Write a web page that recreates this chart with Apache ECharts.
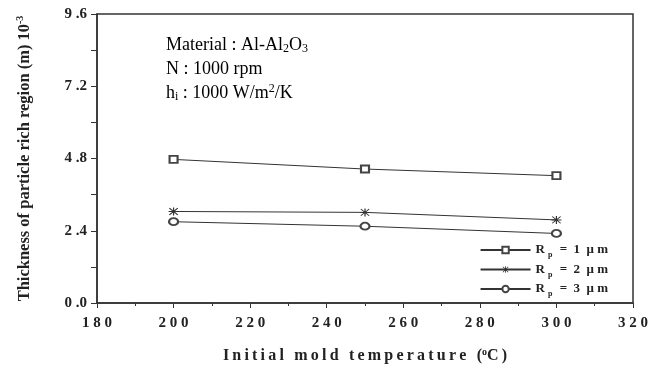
<!DOCTYPE html>
<html><head><meta charset="utf-8">
<script src="https://cdn.jsdelivr.net/npm/echarts@6/dist/echarts.min.js"></script>
<style>html,body{margin:0;padding:0;background:#fff}#c{width:663px;height:365px}</style>
</head><body><div id="c"></div>
<script>
const temps = [200, 250, 300];
const rp1 = [4.77, 4.45, 4.23];
const rp2 = [3.04, 3.01, 2.76];
const rp3 = [2.70, 2.55, 2.31];
const seriesNames = ['Rp1', 'Rp2', 'Rp3'];
const legendLabels = {Rp1: '1', Rp2: '2', Rp3: '3'};

const SERIF = '"Liberation Serif", "Times New Roman", serif';
const TS = '\u2005';
function spaced(s, sep){ return s.split('').join(sep || TS); }

const asterisk = 'path://M0,4.4L10,4.4L10,5.6L0,5.6Z M4.4,0L5.6,0L5.6,10L4.4,10Z M1.2,0.4L9.6,8.8L8.8,9.6L0.4,1.2Z M8.8,0.4L9.6,1.2L1.2,9.6L0.4,8.8Z';

const chart = echarts.init(document.getElementById('c'));
function mk(name, data, symbol, size){
  return {
    name, type: 'line', data: temps.map((t,i)=>[t,data[i]]),
    symbol, symbolSize: size, showAllSymbol: true,
    lineStyle: {color: '#333', width: 1},
    itemStyle: {color: '#444', borderWidth: 0.7},
    emphasis: {disabled: true}
  };
}
const s2 = mk(seriesNames[1], rp2, asterisk, [10, 8]);
s2.itemStyle = {color: '#333', borderWidth: 0};

chart.setOption({
  animation: false,
  grid: {left: 97, right: 30, top: 14, bottom: 62, show: true, borderColor: '#333', borderWidth: 1.5,
    containLabel: false, outerBoundsMode: 'none'},
  xAxis: {
    type: 'value', min: 180, max: 320, interval: 20,
    axisLine: {lineStyle: {color: '#333', width: 1.5}},
    axisTick: {show: true, length: 5, lineStyle: {color: '#333'}},
    minorTick: {show: true, splitNumber: 2, length: 3, lineStyle: {color: '#333'}},
    splitLine: {show: false},
    axisLabel: {fontFamily: SERIF, fontWeight: 'bold', fontSize: 15, color: '#222', margin: 13,
      formatter: v => spaced(String(v))},
    name: '{t|' + spaced('Initial mold temperature (', '\u2009') + '}{sup|o}{t|' + spaced('C)', '\u2009') + '}',
    nameLocation: 'middle', nameGap: 44,
    nameTextStyle: {rich: {
      t: {fontFamily: SERIF, fontWeight: 'bold', fontSize: 16, color: '#222'},
      sup: {fontFamily: SERIF, fontWeight: 'bold', fontSize: 10, color: '#222', padding: [0,0,8,0]}
    }}
  },
  yAxis: {
    type: 'value', min: 0, max: 9.6, interval: 2.4,
    axisLine: {show: true, lineStyle: {color: '#333', width: 1.5}},
    axisTick: {show: true, length: 6, lineStyle: {color: '#333'}},
    minorTick: {show: true, splitNumber: 2, length: 6, lineStyle: {color: '#333'}},
    splitLine: {show: false},
    axisLabel: {fontFamily: SERIF, fontWeight: 'bold', fontSize: 15, color: '#222', margin: 10,
      formatter: v => v.toFixed(1).replace('.', ' .')},
    name: '{t|Thickness of particle rich region (m) 10}{sup|-3}',
    nameLocation: 'middle', nameGap: 62, nameRotate: 90,
    nameTextStyle: {rich: {
      t: {fontFamily: SERIF, fontWeight: 'bold', fontSize: 16.5, color: '#222'},
      sup: {fontFamily: SERIF, fontWeight: 'bold', fontSize: 10, color: '#222', padding: [0,0,10,0]}
    }}
  },
  legend: {
    orient: 'vertical', right: 50, bottom: 62, itemGap: 4, itemWidth: 50, itemHeight: 8,
    data: seriesNames,
    formatter: n => '{r|R}{s|p}{r| =  ' + legendLabels[n] + '  \u03bc m}',
    textStyle: {rich: {
      r: {fontFamily: SERIF, fontWeight: 'bold', fontSize: 13, color: '#222'},
      s: {fontFamily: SERIF, fontWeight: 'bold', fontSize: 8, color: '#222', padding: [10,4,0,3]}
    }}
  },
  graphic: [{
    type: 'text', left: 166, top: 35,
    style: {
      text: '{a|Material : Al-Al}{b|2}{a|O}{b|3}\n{a|N : 1000 rpm}\n{a|h}{b|i}{a| : 1000 W/m}{c|2}{a|/K}',
      rich: {
        a: {fontFamily: SERIF, fontSize: 18, color: '#222', lineHeight: 24},
        b: {fontFamily: SERIF, fontSize: 12, color: '#222', lineHeight: 24, padding: [8,0,0,0]},
        c: {fontFamily: SERIF, fontSize: 12, color: '#222', lineHeight: 24, padding: [0,0,8,0]}
      }
    }
  }],
  series: [
    mk(seriesNames[0], rp1, 'emptyRect', [8, 7]),
    s2,
    mk(seriesNames[2], rp3, 'emptyCircle', [9, 7])
  ]
});
</script></body></html>
